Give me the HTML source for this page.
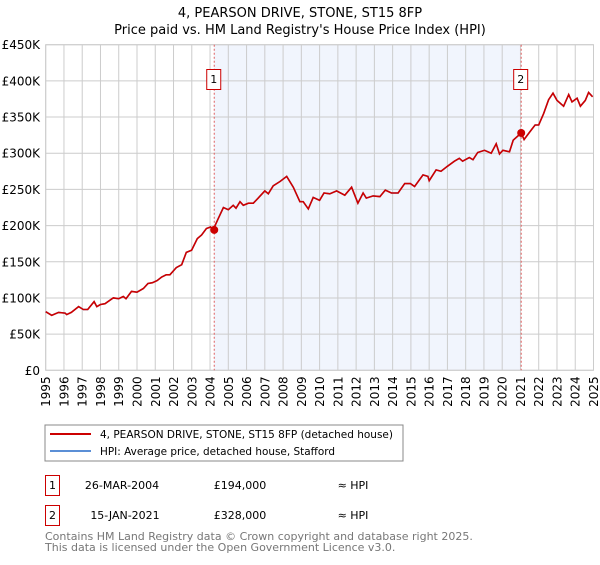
<!DOCTYPE html>
<html><head><meta charset="utf-8"><style>
body{margin:0;background:#fff;font-family:"Liberation Sans","DejaVu Sans",sans-serif;}
svg text{font-family:"DejaVu Sans","Liberation Sans",sans-serif;}
</style></head><body>
<svg id="chart" width="600" height="560" viewBox="0 0 600 560" xmlns="http://www.w3.org/2000/svg">
<text x="300" y="17" text-anchor="middle" font-size="13" fill="#000">4, PEARSON DRIVE, STONE, ST15 8FP</text>
<text x="300" y="34" text-anchor="middle" font-size="13" fill="#000">Price paid vs. HM Land Registry's House Price Index (HPI)</text>
<g id="plot"></g>
<rect x="45" y="425" width="358" height="36" fill="#fff" stroke="#888" stroke-width="1"/>
<line x1="50" y1="434" x2="91" y2="434" stroke="#cc0000" stroke-width="2"/>
<text x="100" y="438" font-size="11" textLength="293" lengthAdjust="spacingAndGlyphs">4, PEARSON DRIVE, STONE, ST15 8FP (detached house)</text>
<line x1="50" y1="451" x2="91" y2="451" stroke="#5b8fd6" stroke-width="2"/>
<text x="100" y="455" font-size="11" textLength="235" lengthAdjust="spacingAndGlyphs">HPI: Average price, detached house, Stafford</text>
<g>
<rect x="45.5" y="475.5" width="14" height="20" fill="#fff" stroke="#cc0000"/>
<text x="52.5" y="489" text-anchor="middle" font-size="11">1</text>
<text x="122" y="489" text-anchor="middle" font-size="11">26-MAR-2004</text>
<text x="240" y="489" text-anchor="middle" font-size="11">£194,000</text>
<text x="353" y="489" text-anchor="middle" font-size="11">≈ HPI</text>
</g>
<g>
<rect x="45.5" y="505.5" width="14" height="20" fill="#fff" stroke="#cc0000"/>
<text x="52.5" y="519" text-anchor="middle" font-size="11">2</text>
<text x="125" y="519" text-anchor="middle" font-size="11">15-JAN-2021</text>
<text x="240" y="519" text-anchor="middle" font-size="11">£328,000</text>
<text x="353" y="519" text-anchor="middle" font-size="11">≈ HPI</text>
</g>
<text x="45" y="540" font-size="11" fill="#777">Contains HM Land Registry data © Crown copyright and database right 2025.</text>
<text x="45" y="551" font-size="11" fill="#777">This data is licensed under the Open Government Licence v3.0.</text>
</svg>
<script>
const years=[1995,1995.33,1995.7,1996.06,1996.15,1996.4,1996.8,1997.06,1997.3,1997.65,1997.8,1998.0,1998.25,1998.7,1999.0,1999.25,1999.4,1999.7,2000.0,2000.35,2000.6,2000.85,2001.1,2001.35,2001.6,2001.8,2002.15,2002.45,2002.7,2002.99,2003.3,2003.54,2003.8,2004.03,2004.17,2004.45,2004.73,2005.0,2005.27,2005.42,2005.64,2005.82,2006.1,2006.37,2006.64,2007.0,2007.19,2007.46,2007.83,2008.2,2008.56,2008.92,2009.1,2009.38,2009.65,2010.0,2010.24,2010.56,2010.93,2011.38,2011.75,2012.1,2012.38,2012.56,2012.93,2013.3,2013.6,2013.93,2014.3,2014.66,2014.97,2015.2,2015.66,2015.93,2016.0,2016.38,2016.65,2017.0,2017.38,2017.65,2017.83,2018.2,2018.4,2018.66,2019.03,2019.4,2019.67,2019.85,2020.04,2020.4,2020.6,2021.04,2021.2,2021.53,2021.8,2022.0,2022.27,2022.54,2022.78,2023.0,2023.36,2023.64,2023.82,2024.1,2024.28,2024.55,2024.73,2024.95];
const prices=[81,76,80,79,77,80,88,84,84,95,88,91,92,100,99,102,99,109,108,113,120,121,124,129,132,132,142,146,163,166,182,187,196,198,194,210,225,222,228,224,233,228,231,231,238,248,244,255,261,268,253,233,233,223,239,235,245,244,248,242,253,231,245,238,241,240,249,245,245,258,258,254,270,268,262,277,275,282,289,293,289,294,291,301,304,300,313,299,304,302,318,328,319,330,339,339,355,374,383,373,365,381,371,376,365,373,384,378];
const hpi=prices.map(v=>v);
const yTicks=[0,50,100,150,200,250,300,350,400,450];
const yTickLabels=["£0","£50K","£100K","£150K","£200K","£250K","£300K","£350K","£400K","£450K"];
const xTicks=[1995,1996,1997,1998,1999,2000,2001,2002,2003,2004,2005,2006,2007,2008,2009,2010,2011,2012,2013,2014,2015,2016,2017,2018,2019,2020,2021,2022,2023,2024,2025];
const saleYears=[2004.23,2021.04];
const saleValues=[194,328];
const saleLabels=["1","2"];

const X0=45.7,X1=593.5,Y0=370.3,Y1=44.7;
const xs=y=>X0+(y-1995)/30*(X1-X0);
const ys=v=>Y0-v/450*(Y0-Y1);
const NS="http://www.w3.org/2000/svg";
const g=document.getElementById('plot');
function mk(t,a){const e=document.createElementNS(NS,t);for(const k in a)e.setAttribute(k,a[k]);g.appendChild(e);return e;}
const sh=mk('rect',{x:xs(saleYears[0]),y:Y1,width:xs(saleYears[1])-xs(saleYears[0]),height:Y0-Y1,fill:'#eef3fd',opacity:0.8});


xTicks.forEach(t=>{const l=mk('line',{x1:xs(t),x2:xs(t),y1:Y1,y2:Y0,stroke:'#cccccc','stroke-width':1});


const tx=mk('text',{x:0,y:0,'font-size':12,'text-anchor':'end',transform:`translate(${xs(t)+4.5},${Y0+6}) rotate(-90)`});tx.textContent=t;

});
yTicks.forEach((t,i)=>{const l=mk('line',{x1:X0,x2:X1,y1:ys(t),y2:ys(t),stroke:'#cccccc','stroke-width':1});


const tx=mk('text',{x:40,y:ys(t)+4.5,'font-size':12,'text-anchor':'end'});tx.textContent=yTickLabels[i];

});
const bd=mk('rect',{x:X0,y:Y1,width:X1-X0,height:Y0-Y1,fill:'none',stroke:'#cccccc'});


saleYears.forEach((s,i)=>{const l=mk('line',{x1:xs(s),x2:xs(s),y1:Y1,y2:Y0,stroke:'#e06060','stroke-width':1,'stroke-dasharray':'2,2'});


const r=mk('rect',{x:xs(s)-7.5,y:69.5,width:14,height:20,fill:'#fff',stroke:'#cc0000'});


const tx=mk('text',{x:xs(s)-0.5,y:83,'font-size':11,'text-anchor':'middle'});tx.textContent=saleLabels[i];

});
const pts=a=>a.map((v,i)=>xs(years[i]).toFixed(1)+','+ys(v).toFixed(1)).join(' ');
const hl=mk('polyline',{points:pts(hpi),fill:'none',stroke:'#5b8fd6','stroke-width':1.5});


const pl=mk('polyline',{points:pts(prices),fill:'none',stroke:'#cc0000','stroke-width':1.6});


saleYears.forEach((s,i)=>{const c=mk('circle',{cx:xs(s),cy:ys(saleValues[i]),r:4,fill:'#cc0000'});

});
</script>
</body></html>
